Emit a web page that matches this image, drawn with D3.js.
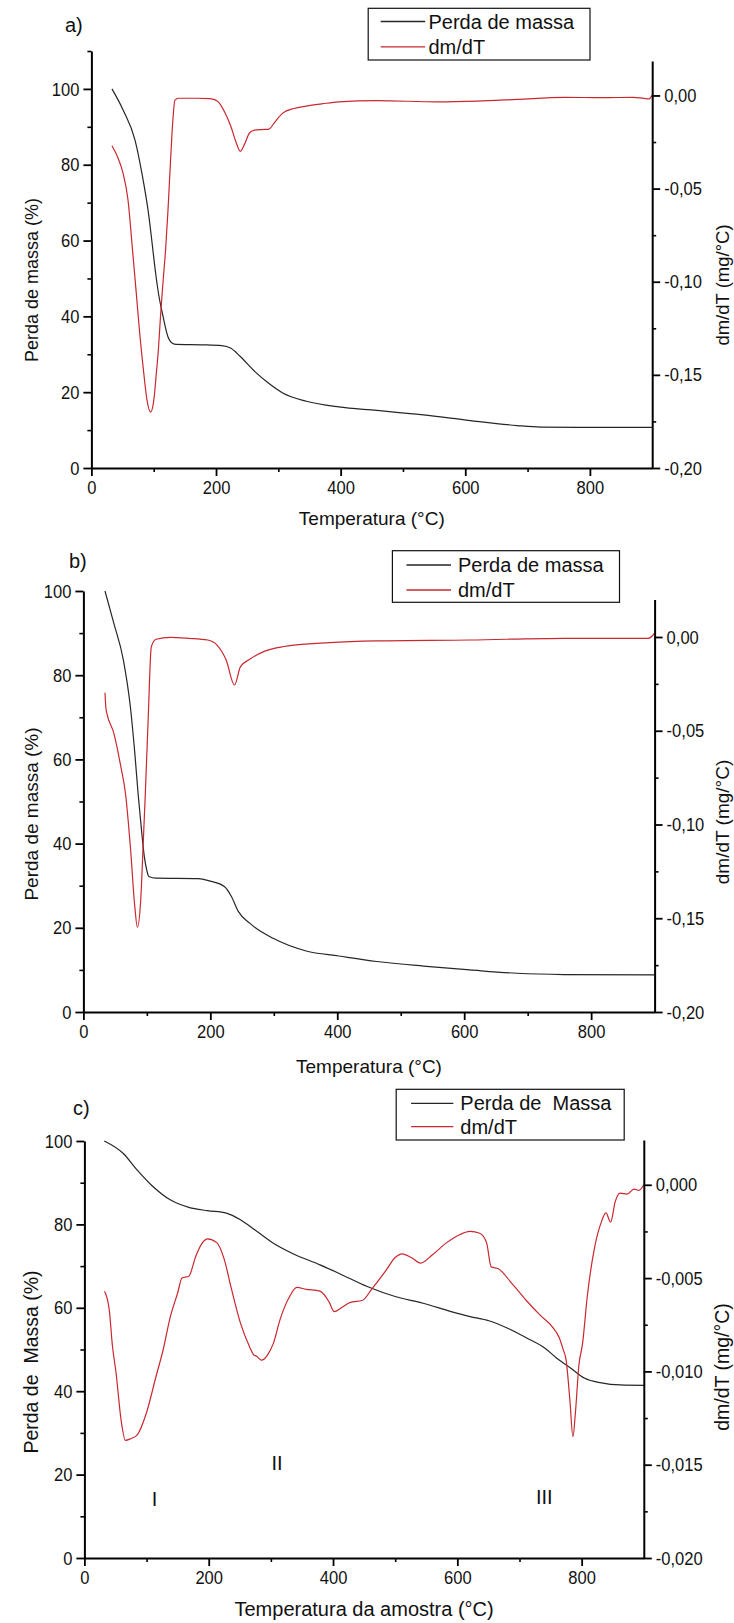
<!DOCTYPE html>
<html><head><meta charset="utf-8">
<script src="https://cdn.jsdelivr.net/npm/d3@7"></script>
<style>
html,body{margin:0;padding:0;background:#fff;}
svg{display:block;}
</style></head><body>
<svg id="chart" width="734" height="1623"></svg>
<script>
// ---------- tick values ----------
const xTicks = [0, 200, 400, 600, 800];
const xMinor = [100, 300, 500, 700];
const massTicks = [0, 20, 40, 60, 80, 100];
const massMinorA = [10, 30, 50, 70, 90, 110];
const massMinor = [10, 30, 50, 70, 90];
const dtgTicksAB = [0, -0.05, -0.10, -0.15, -0.20];
const dtgMinorAB = [-0.025, -0.075, -0.125, -0.175];
const dtgTicksC = [0, -0.005, -0.010, -0.015, -0.020];
const dtgMinorC = [-0.0025, -0.0075, -0.0125, -0.0175];

// ---------- series names ----------
const namesAB = ["Perda de massa", "dm/dT"];
const namesC = ["Perda de  Massa", "dm/dT"];

// ---------- panel a data: [temperature °C, value] ----------
const massA = [[33,100],[51,94.4],[70,86.5],[81,77.8],[92.6,66],[98,58.5],[103,51.5],[107.6,46.1],[115,40],[122.7,34.7],[130,32.9],[136,32.6],[180,32.5],[209,32.3],[224,31.6],[239,29.4],[262,25.5],[284,22.4],[307,19.8],[345,17.6],[397,16.1],[458,15.2],[533,14.0],[608,12.5],[683,11.2],[721,10.8],[800,10.7],[900,10.7]];
const dtgA = [[33,-0.027],[42,-0.033],[51,-0.042],[58.7,-0.056],[66,-0.083],[72,-0.106],[77.5,-0.1275],[84,-0.149],[89,-0.163],[95,-0.170],[100,-0.164],[104,-0.150],[107.6,-0.136],[111,-0.118],[115,-0.100],[119,-0.083],[122.7,-0.063],[127,-0.035],[131,-0.012],[134,-0.0025],[140,-0.0015],[170,-0.0015],[190,-0.0017],[202,-0.003],[214,-0.009],[224,-0.0168],[232,-0.025],[239,-0.030],[246,-0.026],[254,-0.020],[262,-0.0186],[273,-0.0183],[284,-0.0182],[295,-0.014],[307,-0.0095],[325,-0.007],[345,-0.0057],[370,-0.0045],[397,-0.0034],[458,-0.0028],[555,-0.0034],[620,-0.003],[683,-0.0021],[759,-0.001],[820,-0.0012],[870,-0.001],[887,-0.0016],[895,-0.0018],[900,0.0002]];

// ---------- panel b data ----------
const massB = [[34,100],[48,92.3],[63,83.6],[74,72.5],[81,61.5],[86.4,51.5],[92,42.5],[96,36.9],[100,33.6],[103,32.2],[114.5,31.8],[181,31.7],[199.5,31.1],[222,29.8],[233,27.5],[244,23.9],[262,21.1],[299,17.5],[351,14.5],[402.6,13.3],[462,12.0],[535.6,10.9],[609,10.0],[683,9.2],[757,8.9],[900,8.8]];
const dtgB = [[34,-0.0297],[35.5,-0.038],[37,-0.0407],[48,-0.0514],[59,-0.0692],[66.5,-0.084],[74,-0.1118],[81,-0.1438],[85,-0.1548],[90,-0.142],[94.5,-0.108],[97.5,-0.084],[102,-0.0443],[107,-0.0052],[114.5,-0.0012],[137,-0.0002],[166,-0.0007],[196,-0.0016],[210.5,-0.0043],[225,-0.0123],[238,-0.0256],[247.5,-0.0158],[262,-0.0119],[284,-0.0078],[314,-0.0052],[388,-0.003],[462,-0.0021],[609,-0.0016],[757,-0.0007],[890,-0.0007],[900,0.002]];

// ---------- panel c data ----------
const massC = [[32,100],[62.6,97],[85,93],[108,89.4],[138,85.9],[168,84.1],[198,83.3],[228.5,82.7],[251,81.1],[274,78.7],[304,75.5],[334,73.1],[379,70.3],[409,68.3],[455,65.1],[500,62.7],[545,61.1],[590,59.1],[620.5,57.9],[650.7,56.9],[681,55.1],[711,52.8],[741,50.3],[760,47.9],[782.7,45.5],[805,43.1],[831.7,42.0],[862,41.5],[900,41.4]];
const dtgC = [[32.4,-0.0057],[40,-0.0067],[45,-0.0086],[51,-0.0101],[59,-0.0126],[66,-0.0137],[75,-0.0136],[85,-0.0134],[100,-0.0122],[115,-0.0103],[127,-0.0088],[138,-0.0071],[150,-0.0058],[157,-0.0050],[168,-0.0049],[179.5,-0.0038],[190,-0.0031],[198,-0.0029],[213,-0.0031],[225,-0.0040],[236,-0.0055],[251,-0.0074],[266,-0.0087],[272,-0.0091],[277.5,-0.0092],[285,-0.0094],[295,-0.0091],[304,-0.0085],[315,-0.0072],[330,-0.0060],[341.6,-0.0055],[356.6,-0.0056],[379,-0.0057],[394,-0.0063],[402,-0.0068],[413,-0.0066],[428,-0.0063],[447,-0.0062],[462,-0.0056],[485,-0.0046],[500,-0.0039],[511,-0.0037],[526,-0.0039],[541,-0.0042],[560,-0.00375],[583,-0.0031],[602,-0.0027],[620.5,-0.0025],[636,-0.0026],[647,-0.0031],[654.5,-0.0044],[666,-0.0045],[688,-0.0053],[711,-0.0062],[733.6,-0.0070],[752.5,-0.0076],[764,-0.0082],[770,-0.0088],[775,-0.0094],[781,-0.0115],[786,-0.0135],[790,-0.0122],[795.5,-0.0097],[801.5,-0.0085],[809,-0.0060],[820,-0.0035],[831.6,-0.0020],[839,-0.0015],[846.7,-0.0020],[854,-0.0009],[862,-0.00045],[873,-0.0005],[884.4,-0.00023],[892,-0.0003],[900,0]];

// stage annotations for panel c: [label, temperature, mass-axis value]
const stagesC = [["I", 113, 14.1], ["II", 310, 22.8], ["III", 740, 14.6]];

// ---------- layout (positions / styles only) ----------
const FONT = "'Liberation Sans', Arial, Helvetica, sans-serif";
const BLACK = "#262626", RED = "#c8282e";

const panels = [
  { tag:"a)", tagXY:[65,25], mass:massA, dtg:dtgA, names:namesAB,
    xr:[91.4,652.2], base:468, leftDom:[0,110], leftTop:51, massMinor:massMinorA,
    rightDom:[-0.20,0.0185], rightTop:61, dTicks:dtgTicksAB, dMinor:dtgMinorAB, dDec:2,
    xTitle:"Temperatura (°C)", xTitleY:525, xTitleSize:19,
    yTitle:"Perda de massa (%)", yTitleY:280, yTitleSize:18,
    rTitleY:285, rTitleSize:18.5,
    legend:{x0:368.2,x1:590,y0:8.3,y1:60,lx0:380.7,lx1:425.2,tx:428.5,rows:[21.5,46.8]} },
  { tag:"b)", tagXY:[69,561], mass:massB, dtg:dtgB, names:namesAB,
    xr:[83.4,654.6], base:1012, leftDom:[0,100], leftTop:591, massMinor:massMinor,
    rightDom:[-0.20,0.02], rightTop:599.5, dTicks:dtgTicksAB, dMinor:dtgMinorAB, dDec:2,
    xTitle:"Temperatura (°C)", xTitleY:1073, xTitleSize:19,
    yTitle:"Perda de massa (%)", yTitleY:814, yTitleSize:19,
    rTitleY:822, rTitleSize:19,
    legend:{x0:392.4,x1:619.5,y0:550.7,y1:602.3,lx0:406.5,lx1:451,tx:458,rows:[565,590]} },
  { tag:"c)", tagXY:[73,1108], mass:massC, dtg:dtgC, names:namesC,
    xr:[84.4,643.8], base:1558, leftDom:[0,100], leftTop:1141, massMinor:massMinor,
    rightDom:[-0.020,0.0024], rightTop:1140, dTicks:dtgTicksC, dMinor:dtgMinorC, dDec:3,
    xTitle:"Temperatura da amostra (°C)", xTitleY:1616, xTitleSize:20,
    yTitle:"Perda de  Massa (%)", yTitleY:1362, yTitleSize:19.5,
    rTitleY:1367, rTitleSize:19.5,
    legend:{x0:396.2,x1:624.2,y0:1089.3,y1:1140,lx0:411.1,lx1:453.3,tx:460.3,rows:[1103.3,1126.7]},
    stages:stagesC }
];

const svg = d3.select("#chart");
svg.append("rect").attr("width",734).attr("height",1623).attr("fill","#fff");

// slightly condensed tick labels (taller glyphs, same width as the reference)
function condense(sel, k){
  sel.each(function(){
    const len = this.getComputedTextLength();
    if (len > 0) d3.select(this).attr("textLength", (len*k).toFixed(2)).attr("lengthAdjust","spacingAndGlyphs");
  });
}
function styleAxis(g){
  g.attr("font-family", FONT).attr("font-size", 19);
  g.select(".domain").attr("stroke","#000").attr("stroke-width",2);
  g.selectAll(".tick line").attr("stroke","#000").attr("stroke-width",1.8);
  g.selectAll(".tick text").attr("fill","#111");
  condense(g.selectAll(".tick text"), 0.87);
}
function minorAxis(g, gen){
  g.call(gen);
  g.select(".domain").remove();
  g.selectAll(".tick line").attr("stroke","#000").attr("stroke-width",1.6);
  g.selectAll(".tick text").remove();
}

panels.forEach(p => {
  const x = d3.scaleLinear().domain([0,900]).range(p.xr);
  const yL = d3.scaleLinear().domain(p.leftDom).range([p.base, p.leftTop]);
  const yR = d3.scaleLinear().domain(p.rightDom).range([p.base, p.rightTop]);
  const G = svg.append("g");

  // curves
  const lineM = d3.line().x(d=>x(d[0])).y(d=>yL(d[1])).curve(d3.curveMonotoneX);
  const lineD = d3.line().x(d=>x(d[0])).y(d=>yR(d[1])).curve(d3.curveMonotoneX);
  G.append("path").datum(p.mass).attr("d",lineM).attr("fill","none")
    .attr("stroke",BLACK).attr("stroke-width",1.2).attr("stroke-linejoin","round");
  G.append("path").datum(p.dtg).attr("d",lineD).attr("fill","none")
    .attr("stroke",RED).attr("stroke-width",1.2).attr("stroke-linejoin","round");

  // bottom axis
  const gx = G.append("g").attr("transform",`translate(0,${p.base})`);
  gx.call(d3.axisBottom(x).tickValues(xTicks).tickSize(8).tickSizeOuter(0).tickPadding(5).tickFormat(d3.format("d")));
  styleAxis(gx);
  minorAxis(G.append("g").attr("transform",`translate(0,${p.base})`),
    d3.axisBottom(x).tickValues(xMinor).tickSize(4));

  // left axis
  const gl = G.append("g").attr("transform",`translate(${p.xr[0]},0)`);
  gl.call(d3.axisLeft(yL).tickValues(massTicks).tickSize(8).tickSizeOuter(0).tickPadding(4).tickFormat(d3.format("d")));
  styleAxis(gl);
  minorAxis(G.append("g").attr("transform",`translate(${p.xr[0]},0)`),
    d3.axisLeft(yL).tickValues(p.massMinor).tickSize(4));

  // right axis
  const gr = G.append("g").attr("transform",`translate(${p.xr[1]},0)`);
  gr.call(d3.axisRight(yR).tickValues(p.dTicks).tickSize(8).tickSizeOuter(0).tickPadding(4)
    .tickFormat(d => d.toFixed(p.dDec).replace(".", ",")));
  styleAxis(gr);
  minorAxis(G.append("g").attr("transform",`translate(${p.xr[1]},0)`),
    d3.axisRight(yR).tickValues(p.dMinor).tickSize(4));

  // titles
  G.append("text").attr("x",(p.xr[0]+p.xr[1])/2).attr("y",p.xTitleY)
    .attr("text-anchor","middle").attr("font-family",FONT).attr("font-size",p.xTitleSize)
    .attr("fill","#111").style("white-space","pre").text(p.xTitle);
  G.append("text").attr("transform",`translate(38,${p.yTitleY}) rotate(-90)`)
    .attr("text-anchor","middle").attr("font-family",FONT).attr("font-size",p.yTitleSize)
    .attr("fill","#111").style("white-space","pre").text(p.yTitle);
  G.append("text").attr("transform",`translate(728.5,${p.rTitleY}) rotate(-90)`)
    .attr("text-anchor","middle").attr("font-family",FONT).attr("font-size",p.rTitleSize)
    .attr("fill","#111").text("dm/dT (mg/°C)");

  // panel tag
  G.append("text").attr("x",p.tagXY[0]).attr("y",p.tagXY[1]).attr("dy","0.35em")
    .attr("font-family",FONT).attr("font-size",20).attr("fill","#111").text(p.tag);

  // legend
  const L = p.legend;
  G.append("rect").attr("x",L.x0).attr("y",L.y0).attr("width",L.x1-L.x0).attr("height",L.y1-L.y0)
    .attr("fill","#fff").attr("stroke","#111").attr("stroke-width",1.2);
  [BLACK, RED].forEach((c,i) => {
    G.append("line").attr("x1",L.lx0).attr("x2",L.lx1).attr("y1",L.rows[i]).attr("y2",L.rows[i])
      .attr("stroke",c).attr("stroke-width",1.3);
    G.append("text").attr("x",L.tx).attr("y",L.rows[i]).attr("dy","0.35em")
      .attr("font-family",FONT).attr("font-size",20).attr("fill","#111")
      .style("white-space","pre").text(p.names[i]);
  });

  // stage labels
  if (p.stages) {
    G.selectAll("text.stage").data(p.stages).enter().append("text").attr("class","stage")
      .attr("x",d=>x(d[1])).attr("y",d=>yL(d[2])).attr("dy","0.35em")
      .attr("text-anchor","middle").attr("font-family",FONT).attr("font-size",20)
      .attr("fill","#111").text(d=>d[0]);
  }
});
</script>
</body></html>
